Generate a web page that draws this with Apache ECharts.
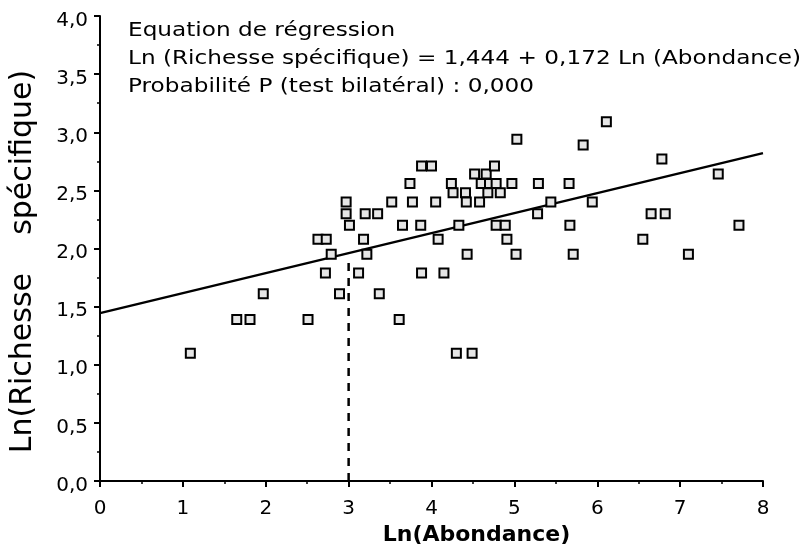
<!DOCTYPE html>
<html>
<head>
<meta charset="utf-8">
<script src="https://cdn.jsdelivr.net/npm/echarts@6/dist/echarts.min.js"></script>
<style>
html,body{margin:0;padding:0;background:#fff;}
#c{width:809px;height:550px;}
</style>
</head>
<body>
<div id="c"></div>
<script>
// Ln(Abondance) values
const abondance = [1.09,1.65,1.81,1.97,2.51,2.63,2.73,2.72,2.79,2.89,2.97,2.97,3.01,3.12,3.18,3.20,3.22,3.35,3.37,3.52,
  3.61,3.65,3.74,3.77,3.87,3.88,3.88,4.00,4.05,4.08,4.15,4.24,4.26,4.30,4.33,4.41,4.42,4.43,4.49,4.52,
  4.58,4.60,4.66,4.68,4.70,4.76,4.78,4.78,4.83,4.89,4.91,4.97,5.02,5.03,5.28,5.29,5.44,5.66,5.67,5.71,
  5.83,5.94,6.11,6.55,6.65,6.82,6.78,7.10,7.46,7.71];
// Ln(Richesse spécifique) values
const richesse = [1.10,1.39,1.39,1.61,1.39,2.08,2.08,1.79,1.95,1.61,2.40,2.30,2.20,1.79,2.08,2.30,1.95,2.30,1.61,2.40,
  1.39,2.20,2.56,2.40,2.20,1.79,2.71,2.71,2.40,2.08,1.79,2.56,2.48,1.10,2.20,2.48,2.40,1.95,1.10,2.64,
  2.40,2.56,2.64,2.48,2.56,2.71,2.56,2.20,2.48,2.20,2.08,2.56,1.95,2.94,2.30,2.56,2.40,2.56,2.20,1.95,
  2.89,2.40,3.09,2.08,2.30,2.30,2.77,1.95,2.64,2.20];
// Regression line endpoints (x, y)
const regX = [0, 8];
const regY = [1.444, 2.82];
// Dashed reference line at Ln(Abondance) = 3
const dashX = [3, 3];
const dashY = [0, 1.93];
const annotationLines = [
  'Equation de régression',
  'Ln (Richesse spécifique) = 1,444 + 0,172 Ln (Abondance)',
  'Probabilité P (test bilatéral) : 0,000'
];
const xTitle = 'Ln(Abondance)';
const yTitle = 'Ln(Richesse    spécifique)';

const FONT = '"DejaVu Sans", "Liberation Sans", sans-serif';
const chart = echarts.init(document.getElementById('c'), null, {renderer: 'canvas'});
const pts = abondance.map((x, i) => [x, richesse[i]]);

chart.setOption({
  animation: false,
  backgroundColor: '#fff',
  grid: {left: 100, top: 16, right: 46, bottom: 69, containLabel: false, outerBoundsMode: 'none'},
  xAxis: {
    type: 'value', min: 0, max: 8, interval: 1,
    name: xTitle, nameLocation: 'middle', nameGap: 42,
    nameTextStyle: {fontFamily: FONT, fontWeight: 'bold', fontSize: 22, color: '#000', padding: [0, 0, 0, 90]},
    axisLine: {show: true, onZero: false, lineStyle: {color: '#000', width: 2}},
    axisTick: {show: true, inside: false, length: 6, lineStyle: {color: '#000', width: 2}},
    minorTick: {show: true, splitNumber: 2, length: 3, lineStyle: {color: '#000', width: 1.5}},
    axisLabel: {fontFamily: FONT, fontSize: 20, color: '#000', margin: 18},
    splitLine: {show: false}
  },
  yAxis: {
    type: 'value', min: 0, max: 4, interval: 0.5,
    name: yTitle, nameLocation: 'middle', nameRotate: 90, nameGap: 62,
    nameTextStyle: {fontFamily: FONT, fontSize: 30, color: '#000', padding: [0, 26, 0, 0]},
    axisLine: {show: true, onZero: false, lineStyle: {color: '#000', width: 2}},
    axisTick: {show: true, inside: false, length: 6, lineStyle: {color: '#000', width: 2}},
    minorTick: {show: true, splitNumber: 2, length: 3, lineStyle: {color: '#000', width: 1.5}},
    axisLabel: {fontFamily: FONT, fontSize: 20, color: '#000', margin: 12, verticalAlign: 'top', lineHeight: 9,
      formatter: v => v.toFixed(1).replace('.', ',')},
    splitLine: {show: false}
  },
  graphic: [{
    type: 'text', x: 128, y: 17, scaleX: 1.22,
    style: {text: annotationLines.join('\n'), font: '19px ' + FONT, lineHeight: 28, fill: '#000', textVerticalAlign: 'top'}
  }],
  series: [
    {
      type: 'line', data: dashX.map((x, i) => [x, dashY[i]]), symbol: 'none', silent: true,
      lineStyle: {color: '#000', width: 2.5, type: [8, 7]}, z: 2
    },
    {
      type: 'line', data: regX.map((x, i) => [x, regY[i]]), symbol: 'none', silent: true,
      lineStyle: {color: '#000', width: 2.4}, z: 3
    },
    {
      type: 'scatter', data: pts, symbol: 'rect', symbolSize: 9,
      itemStyle: {color: '#e6e6e6', borderColor: '#000', borderWidth: 2, opacity: 1}, z: 4
    }
  ]
});
</script>
</body>
</html>
